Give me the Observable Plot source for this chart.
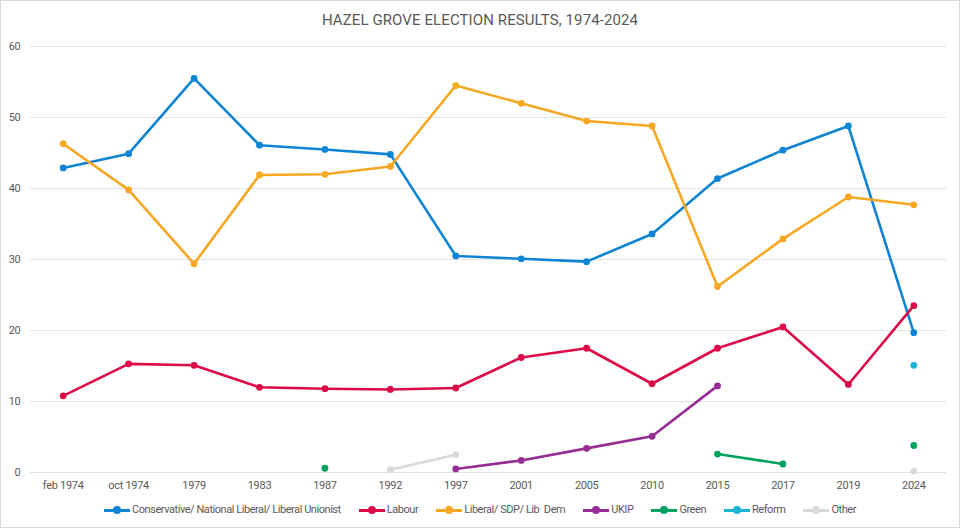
<!DOCTYPE html>
<html>
<head>
<meta charset="utf-8">
<script src="https://cdn.jsdelivr.net/npm/d3@7"></script>
<script src="https://cdn.jsdelivr.net/npm/@observablehq/plot@0.6"></script>
<style>
  html, body { margin: 0; padding: 0; background: #fff; }
  #frame { width: 960px; height: 528px; box-sizing: border-box; border: 1px solid #d9d9d9; font-family: Roboto, "Noto Sans", sans-serif; position: relative; overflow: hidden; }
  #title { height: 36px; line-height: 38px; text-align: center; font-size: 15px; color: #595959; letter-spacing: 0.1px; }
  #legend { position: absolute; left: 0; right: 0; top: 502px; display: flex; justify-content: center; align-items: center; font-size: 11px; letter-spacing: -0.45px; color: #595959; }
  .item { display: flex; align-items: center; margin: 0 9px; }
  .sw { position: relative; width: 26px; height: 10px; margin-right: 2px; }
  .sw .ln { position: absolute; left: 0; right: 0; top: 4px; height: 3px; }
  .sw .dt { position: absolute; left: 9px; top: 1.5px; width: 8px; height: 8px; border-radius: 50%; }
  #chart svg text { letter-spacing: -0.3px; }
</style>
</head>
<body>
<div id="frame">
  <div id="title">HAZEL GROVE ELECTION RESULTS, 1974-2024</div>
  <div id="chart"></div>
  <div id="legend"></div>
</div>
<script>
const elections = ["feb 1974","oct 1974","1979","1983","1987","1992","1997","2001","2005","2010","2015","2017","2019","2024"];
const seriesNames = ["Conservative/ National Liberal/ Liberal Unionist","Labour","Liberal/ SDP/ Lib  Dem","UKIP","Green","Reform","Other"];
const seriesColors = ["#0F84D4","#DD0A48","#F7A823","#952D95","#00A35E","#1DB4D4","#D9D9D9"];
const conservative = [42.9, 44.9, 55.5, 46.1, 45.5, 44.8, 30.5, 30.1, 29.7, 33.6, 41.4, 45.4, 48.8, 19.7];
const labour       = [10.8, 15.3, 15.1, 12.0, 11.8, 11.7, 11.9, 16.2, 17.5, 12.5, 17.5, 20.5, 12.4, 23.5];
const libdem       = [46.3, 39.8, 29.4, 41.9, 42.0, 43.1, 54.5, 52.0, 49.5, 48.8, 26.2, 32.9, 38.8, 37.7];
const ukip         = [null, null, null, null, null, null, 0.5, 1.7, 3.4, 5.1, 12.2, null, null, null];
const green        = [null, null, null, null, 0.6, null, null, null, null, null, 2.6, 1.2, null, 3.8];
const reform       = [null, null, null, null, null, null, null, null, null, null, null, null, null, 15.1];
const other        = [null, null, null, null, null, 0.4, 2.5, null, null, null, null, null, null, 0.2];
const yTicks = [0, 10, 20, 30, 40, 50, 60];

const seriesValues = [conservative, labour, libdem, ukip, green, reform, other];
const rows = [];
seriesNames.forEach((name, i) => {
  elections.forEach((e, j) => {
    const v = seriesValues[i][j];
    rows.push({series: name, election: e, value: v == null ? NaN : v});
  });
});

const plot = Plot.plot({
  width: 958,
  height: 460,
  marginLeft: 29,
  marginRight: 13,
  marginTop: 9,
  marginBottom: 25,
  style: {fontFamily: "Roboto, 'Noto Sans', sans-serif", fontSize: "11px", color: "#595959", background: "#fff"},
  x: {type: "point", domain: elections, padding: 0.5, round: false, label: null},
  y: {domain: [0, 60], ticks: yTicks, label: null},
  color: {domain: seriesNames, range: seriesColors},
  marks: [
    Plot.ruleY(yTicks, {stroke: "#e3e3e3", strokeWidth: 1}),
    Plot.axisY({ticks: yTicks, tickSize: 0, tickPadding: 10, label: null, fill: "#595959"}),
    Plot.axisX({tickSize: 0, tickPadding: 9, label: null, fill: "#595959"}),
    ...seriesNames.flatMap((name) => {
      const d = rows.filter(r => r.series === name);
      const c = seriesColors[seriesNames.indexOf(name)];
      return [
        Plot.line(d, {x: "election", y: "value", stroke: c, strokeWidth: 2.6, curve: "linear"}),
        Plot.dot(d.filter(r => !isNaN(r.value)), {x: "election", y: "value", fill: c, r: 3.4})
      ];
    })
  ]
});
document.getElementById("chart").appendChild(plot);

const legend = document.getElementById("legend");
seriesNames.forEach((name, i) => {
  const item = document.createElement("div");
  item.className = "item";
  item.innerHTML = `<div class="sw"><div class="ln" style="background:${seriesColors[i]}"></div><div class="dt" style="background:${seriesColors[i]}"></div></div><span>${name.replace(/ /g, "&nbsp;").replace(/&nbsp;&nbsp;/g, "&nbsp; ")}</span>`;
  legend.appendChild(item);
});
</script>
</body>
</html>
